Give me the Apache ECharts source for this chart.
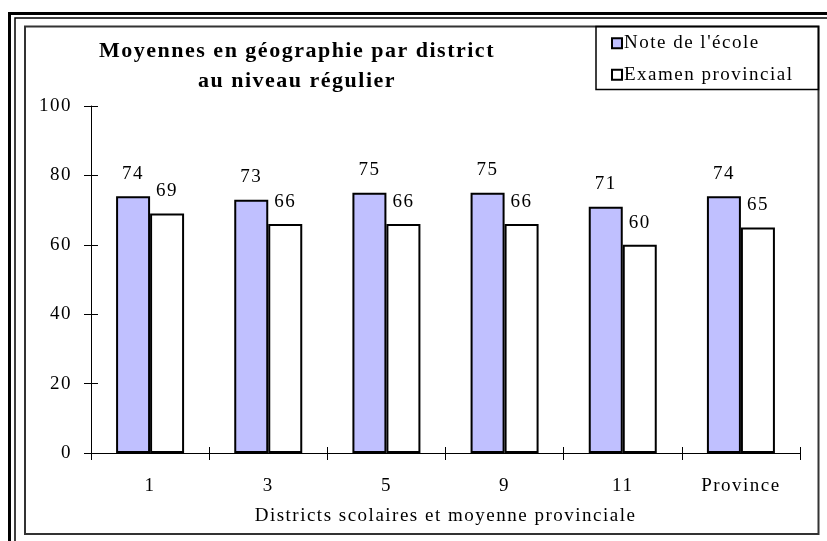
<!DOCTYPE html>
<html>
<head>
<meta charset="utf-8">
<script src="https://cdn.jsdelivr.net/npm/echarts@6/dist/echarts.min.js"></script>
<style>
html,body{margin:0;padding:0;background:#fff;}
#chart{width:827px;height:541px;}
</style>
</head>
<body>
<div id="chart"></div>
<script>
const categories = ['1', '3', '5', '9', '11', 'Province'];
const noteEcole = [74, 73, 75, 75, 71, 74];
const examenProvincial = [69, 66, 66, 66, 60, 65];
const yTicks = [0, 20, 40, 60, 80, 100];

// The reference typesetting is slightly letter-spaced: apply a small tracking to every 2D canvas context
(function () {
  const orig = HTMLCanvasElement.prototype.getContext;
  HTMLCanvasElement.prototype.getContext = function () {
    const ctx = orig.apply(this, arguments);
    if (ctx && arguments[0] === '2d' && 'letterSpacing' in ctx) {
      ctx.letterSpacing = '1.5px';
    }
    return ctx;
  };
})();

const FONT = '"Liberation Serif", "Times New Roman", serif';
const chart = echarts.init(document.getElementById('chart'));

const labelStyle = {fontFamily: FONT, fontSize: 19, color: '#000'};

chart.setOption({
  backgroundColor: '#ffffff',
  animation: false,
  title: {
    text: 'Moyennes en géographie par district\nau niveau régulier',
    left: 292,
    textAlign: 'center',
    top: 31,
    textStyle: {fontFamily: FONT, fontSize: 22, fontWeight: 'bold', color: '#000', lineHeight: 30}
  },
  legend: {
    orient: 'vertical',
    left: 606,
    top: 28,
    itemWidth: 10,
    itemHeight: 10,
    itemGap: 11,
    icon: 'rect',
    textStyle: {fontFamily: FONT, fontSize: 19, lineHeight: 20, color: '#000', padding: [0, 0, 0, -3]},
    data: [
      {name: "Note de l'école", itemStyle: {color: '#C0C0FF', borderColor: '#000', borderWidth: 2}},
      {name: 'Examen provincial', itemStyle: {color: '#ffffff', borderColor: '#000', borderWidth: 2}}
    ]
  },
  grid: {left: 91, right: 27, top: 106, bottom: 88},
  xAxis: [{
    type: 'category',
    data: categories,
    name: 'Districts scolaires et moyenne provinciale',
    nameLocation: 'middle',
    nameGap: 53,
    nameTextStyle: labelStyle,
    axisLine: {lineStyle: {color: '#000', width: 1}},
    axisTick: {show: true, inside: false, length: 7, lineStyle: {color: '#000'}},
    axisLabel: Object.assign({margin: 23}, labelStyle),
    splitLine: {show: false}
  }, {
    type: 'category',
    data: categories,
    position: 'top',
    offset: -347,
    axisLine: {show: false},
    axisTick: {show: true, inside: false, length: 6, lineStyle: {color: '#000'}},
    axisLabel: {show: false},
    splitLine: {show: false}
  }],
  yAxis: [{
    type: 'value',
    min: 0,
    max: 100,
    interval: 20,
    axisLine: {show: true, lineStyle: {color: '#000', width: 1}},
    axisTick: {show: true, inside: false, length: 7, lineStyle: {color: '#000'}},
    axisLabel: Object.assign({margin: 19,
      formatter: v => yTicks.indexOf(v) >= 0 ? String(v) : ''}, labelStyle),
    splitLine: {show: false}
  }, {
    type: 'value',
    min: 0,
    max: 100,
    interval: 20,
    position: 'right',
    offset: -709,
    axisLine: {show: false},
    axisTick: {show: true, inside: false, length: 7, lineStyle: {color: '#000'}},
    axisLabel: {show: false},
    splitLine: {show: false}
  }],
  series: [{
    name: "Note de l'école",
    type: 'bar',
    data: noteEcole,
    barWidth: 34,
    barGap: '0%',
    itemStyle: {color: '#C0C0FF', borderColor: '#000', borderWidth: 2},
    label: Object.assign({show: true, position: 'top', distance: 12}, labelStyle)
  }, {
    name: 'Examen provincial',
    type: 'bar',
    data: examenProvincial,
    barWidth: 34,
    barGap: '0%',
    itemStyle: {color: '#ffffff', borderColor: '#000', borderWidth: 2},
    label: Object.assign({show: true, position: 'top', distance: 12}, labelStyle)
  }],
  graphic: [
    {type: 'rect', silent: true, z: -1, shape: {x: 9.5, y: 13.5, width: 900, height: 700}, style: {fill: 'none', stroke: '#000', lineWidth: 3}},
    {type: 'rect', silent: true, z: -1, shape: {x: 15, y: 18, width: 900, height: 700}, style: {fill: 'none', stroke: '#000', lineWidth: 1.5}},
    {type: 'rect', silent: true, z: -1, shape: {x: 25, y: 26.5, width: 793.5, height: 507.5}, style: {fill: 'none', stroke: '#333', lineWidth: 2}},
    {type: 'rect', silent: true, z: -1, shape: {x: 596, y: 26.5, width: 222.5, height: 63}, style: {fill: 'none', stroke: '#000', lineWidth: 1.5}}
  ]
});
</script>
</body>
</html>
